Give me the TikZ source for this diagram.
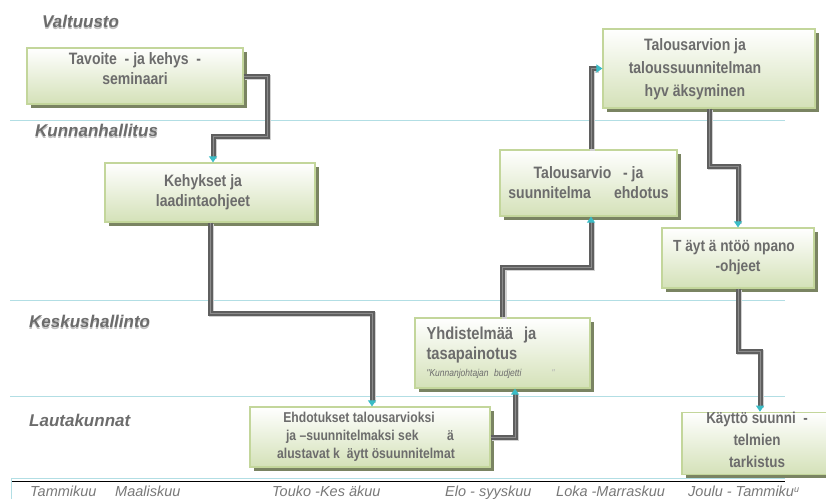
\documentclass[tikz,border=0pt]{standalone}
\usepackage{fontspec}
\setmainfont{Liberation Sans}
\newfontfamily\narrowsans{Liberation Sans}[FakeStretch=0.85]
\usetikzlibrary{arrows.meta,shadows}

\definecolor{boxedge}{RGB}{195,214,155}
\definecolor{boxbottom}{RGB}{212,225,184}
\definecolor{boxshade}{RGB}{122,132,98}
\definecolor{lanegray}{RGB}{108,108,108}
\definecolor{monthgray}{RGB}{120,120,120}
\definecolor{laneline}{RGB}{178,222,228}
\definecolor{tipcyan}{RGB}{58,188,198}
\definecolor{conndark}{RGB}{95,95,95}
\definecolor{connlight}{RGB}{140,140,140}
\newcommand{\lanetext}[1]{\makebox[0pt][l]{\raisebox{-2pt}{\textcolor{black!25}{#1}}}#1}

\begin{document}
\begin{tikzpicture}[x=1pt,y=-1pt,
    stepbox/.style={draw=boxedge, line width=1.2pt, top color=white, bottom color=boxbottom,
                    drop shadow={shadow xshift=3.5pt, shadow yshift=-3.5pt, fill=boxshade, opacity=1},
                    font=\narrowsans\fontsize{16.5}{20}\selectfont\bfseries, text=lanegray, align=center, inner sep=0pt},
    lane/.style={font=\fontsize{17}{19}\selectfont\bfseries\itshape, text=lanegray, inner sep=0pt, anchor=west},
    month/.style={font=\fontsize{14.5}{17}\selectfont\itshape, text=monthgray, inner sep=0pt, anchor=base west},
    conn/.style={draw=connlight, line width=1pt,
                 -{Triangle[width=8pt,length=6pt,color=tipcyan]},
                 preaction={draw=black!18, line width=5pt, -, shorten >=5pt,
                            transform canvas={shift={(1.5pt,-1.5pt)}}},
                 preaction={draw=conndark, line width=5pt, -, shorten >=5pt}}]
    \useasboundingbox (0,0) rectangle (826,499);

    \draw[laneline, line width=0.8pt] (10,120) -- (785,120);
    \draw[laneline, line width=0.8pt] (10,300) -- (785,300);
    \draw[laneline, line width=0.8pt] (10,396) -- (785,396);
    \draw[laneline, line width=0.8pt] (11,499) -- (11,478) -- (785,478);
    \draw[black, line width=0.8pt] (12,481) -- (785,481);

    \node[lane] (valtuusto) at (42,22) {\lanetext{Valtuusto}};
    \node[lane] (kunnanhallitus) at (35,131) {\lanetext{Kunnanhallitus}};
    \node[lane] (keskushallinto) at (29,322) {\lanetext{Keskushallinto}};
    \node[lane] (lautakunnat) at (29,420) {Lautakunnat};

    \node[stepbox, minimum width=216, minimum height=56] (tavoite) at (135,76)
        {Tavoite\ \ - ja kehys\ \ -\\seminaari\\[-6pt]};
    \node[stepbox, minimum width=210, minimum height=59] (kehykset) at (210,192.5)
        {\begin{tabular}{@{}c@{\hspace{14pt}}}Kehykset ja\\laadintaohjeet\end{tabular}};
    \node[stepbox, minimum width=240, minimum height=60, font=\narrowsans\fontsize{14.3}{18}\selectfont\bfseries] (ehdotukset) at (370,437)
        {Ehdotukset talousarvioksi\hspace*{22pt}\\ja –suunnitelmaksi sek\hspace{2em}ä\\alustavat k\ \ äytt ösuunnitelmat\hspace*{8pt}};
    \node[stepbox, minimum width=175, minimum height=70, text width=152, align=left] (yhdistelma) at (502.5,353)
        {{\fontsize{17.3}{21}\selectfont Yhdistelmää\ \ ja\\tasapainotus}\\[-3pt]
         {\fontsize{10}{11}\selectfont\mdseries\itshape "Kunnanjohtajan budjetti\hspace{3em}\textcolor{black!30}{"}}};
    \node[stepbox, minimum width=177, minimum height=66] (ehdotus) at (588.5,183)
        {Talousarvio\ \ \ - ja\\suunnitelma\hspace{1.4em}ehdotus};
    \node[stepbox, minimum width=212, minimum height=79, font=\narrowsans\fontsize{16.5}{23}\selectfont\bfseries] (hyvaksyminen) at (709,68.5)
        {\begin{tabular}{@{}c@{\hspace{28pt}}}Talousarvion ja\\taloussuunnitelman\\hyv äksyminen\end{tabular}};
    \node[stepbox, minimum width=152, minimum height=60, font=\narrowsans\fontsize{16.1}{20}\selectfont\bfseries] (taytanto) at (738,258)
        {T äyt ä ntöö npano\hspace*{8pt}\\-ohjeet};
    \node[stepbox, minimum width=150, minimum height=61, font=\narrowsans\fontsize{15.8}{22}\selectfont\bfseries] (kaytto) at (757,443.5)
        {Käyttö suunni\ \ -\\telmien\\tarkistus\\[-15pt]};

    \draw[conn] (tavoite.east) -| (267,136) -| ([xshift=3pt]kehykset.north);
    \draw[conn] (kehykset.south) |- (372,313) -- ([xshift=2pt]ehdotukset.north);
    \draw[conn] (ehdotukset.east) -| ([xshift=12.5pt]yhdistelma.south);
    \draw[conn] (yhdistelma.north) |- (591,267) -- ([xshift=2.5pt]ehdotus.south);
    \draw[conn] ([xshift=2.5pt]ehdotus.north) |- (hyvaksyminen.west);
    \draw[conn] (hyvaksyminen.south) |- (738,166) -- (taytanto.north);
    \draw[conn] (taytanto.south) |- (760,351) -- ([xshift=3pt]kaytto.north);

    \node[month] (tammikuu) at (30,496) {Tammikuu};
    \node[month] (maaliskuu) at (115,496) {Maaliskuu};
    \node[month] (toukokesakuu) at (272,496) {Touko -Kes äkuu};
    \node[month] (elosyyskuu) at (445,496) {Elo - syyskuu};
    \node[month] (lokamarraskuu) at (556,496) {Loka -Marraskuu};
    \node[month] (joulutammikuu) at (688,496) {Joulu - Tammiku\raisebox{4pt}{\fontsize{9}{10}\selectfont u}};
\end{tikzpicture}
\end{document}
